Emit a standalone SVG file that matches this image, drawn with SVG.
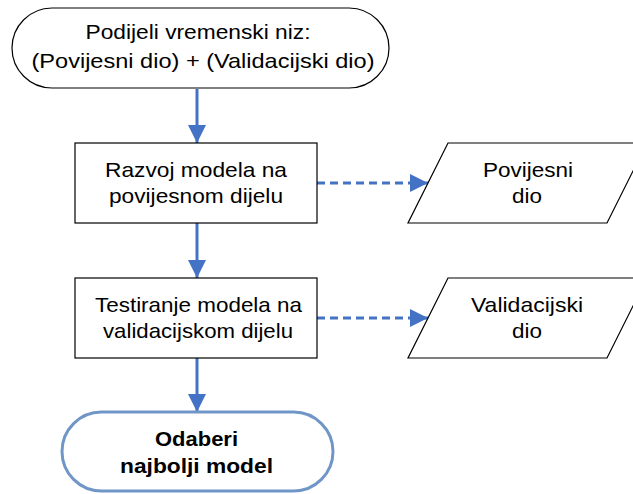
<svg xmlns="http://www.w3.org/2000/svg" width="633" height="494" viewBox="0 0 633 494">
<style>
.t{font-family:"Liberation Sans",Arial,sans-serif;font-size:21px;fill:#000;text-anchor:middle}
.b{font-weight:bold;font-size:20.5px}
.shape{fill:#fff;stroke:#000;stroke-width:1.2}
.conn{stroke:#4472C4;stroke-width:3;fill:none}
.dash{stroke-dasharray:8 5}
</style>
<defs>
<marker id="ah" markerWidth="6" markerHeight="6" refX="6" refY="3" orient="auto" markerUnits="strokeWidth">
<path d="M0,0 L6,3 L0,6 Z" fill="#4472C4"/>
</marker>
</defs>
<rect width="633" height="494" fill="#fff"/>
<g id="connectors">
<line class="conn" x1="197" y1="89" x2="197" y2="143" marker-end="url(#ah)"/>
<line class="conn" x1="197" y1="223" x2="197" y2="278" marker-end="url(#ah)"/>
<line class="conn" x1="197" y1="358" x2="197" y2="412" marker-end="url(#ah)"/>
<line class="conn dash" x1="317" y1="183" x2="428" y2="183" marker-end="url(#ah)"/>
<line class="conn dash" x1="317" y1="318" x2="428" y2="318" marker-end="url(#ah)"/>
</g>
<g id="start">
<rect class="shape" x="12" y="8" width="377" height="80" rx="40" ry="40"/>
<text class="t" x="198" y="39" textLength="225" lengthAdjust="spacingAndGlyphs">Podijeli vremenski niz:</text>
<text class="t" x="203" y="68" textLength="343" lengthAdjust="spacingAndGlyphs">(Povijesni dio) + (Validacijski dio)</text>
</g>
<g id="razvoj">
<rect class="shape" x="75" y="143" width="242" height="80"/>
<text class="t" x="196" y="177" textLength="182" lengthAdjust="spacingAndGlyphs">Razvoj modela na</text>
<text class="t" x="196" y="203" textLength="174" lengthAdjust="spacingAndGlyphs">povijesnom dijelu</text>
</g>
<g id="povijesni">
<path class="shape" d="M448,143 L647,143 L607,223 L408,223 Z"/>
<text class="t" x="528" y="177" textLength="90" lengthAdjust="spacingAndGlyphs">Povijesni</text>
<text class="t" x="527" y="203" textLength="30" lengthAdjust="spacingAndGlyphs">dio</text>
</g>
<g id="testiranje">
<rect class="shape" x="75" y="278" width="242" height="80"/>
<text class="t" x="198.5" y="312" textLength="207" lengthAdjust="spacingAndGlyphs">Testiranje modela na</text>
<text class="t" x="198" y="338" textLength="190" lengthAdjust="spacingAndGlyphs">validacijskom dijelu</text>
</g>
<g id="validacijski">
<path class="shape" d="M448,278 L647,278 L607,358 L408,358 Z"/>
<text class="t" x="527" y="312" textLength="112" lengthAdjust="spacingAndGlyphs">Validacijski</text>
<text class="t" x="527" y="338" textLength="30" lengthAdjust="spacingAndGlyphs">dio</text>
</g>
<g id="kraj">
<rect x="62" y="412" width="271" height="79" rx="39.5" ry="39.5" fill="#fff" stroke="#7096C8" stroke-width="3"/>
<text class="t b" x="196.5" y="446" textLength="83" lengthAdjust="spacingAndGlyphs">Odaberi</text>
<text class="t b" x="196.5" y="473" textLength="153" lengthAdjust="spacingAndGlyphs">najbolji model</text>
</g>
</svg>
